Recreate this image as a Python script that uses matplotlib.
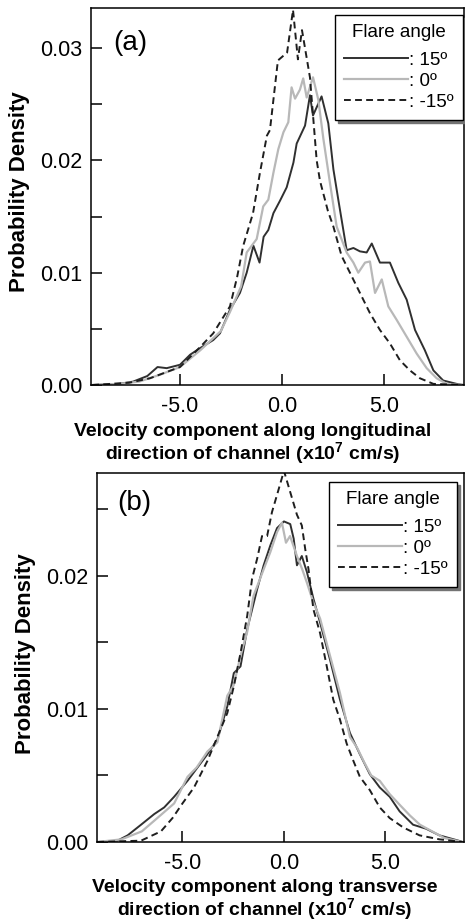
import matplotlib
matplotlib.use("Agg")
import matplotlib.pyplot as plt
from matplotlib.lines import Line2D
from matplotlib.ticker import MultipleLocator

plt.rcParams['font.family'] = ['Liberation Sans', 'DejaVu Sans']
plt.rcParams['mathtext.fontset'] = 'custom'
plt.rcParams['mathtext.rm'] = 'Liberation Sans'
plt.rcParams['mathtext.bf'] = 'Liberation Sans:bold'

# panel (a): longitudinal velocity component (x10^7 cm/s) vs probability density
a_x_15 = [-9.3, -8.0, -7.3, -6.6, -6.1, -5.65, -5.0, -4.5, -4.0, -3.37, -3.04, -2.55, -2.06,
          -1.73, -1.4, -1.1, -0.9, -0.67, -0.42, -0.1, 0.23, 0.56, 0.72, 1.13, 1.37, 1.52,
          1.94, 2.27, 2.52, 2.76, 3.17, 3.5, 3.82, 4.15, 4.4, 4.8, 5.29, 5.7, 6.11, 6.52,
          7.0, 7.42, 7.9, 8.56, 8.9]
a_y_15 = [0.0, 0.0001, 0.0003, 0.0008, 0.0016, 0.0015, 0.0018, 0.0027, 0.0033, 0.0040, 0.0046,
          0.0067, 0.0082, 0.0100, 0.0124, 0.0109, 0.0132, 0.0138, 0.0153, 0.0164, 0.0176,
          0.0198, 0.0215, 0.0231, 0.0258, 0.0240, 0.0257, 0.0233, 0.0192, 0.0165, 0.0120,
          0.0122, 0.0119, 0.0118, 0.0126, 0.0109, 0.0109, 0.0091, 0.0076, 0.0049, 0.0031,
          0.0013, 0.0004, 0.0001, 0.0]

a_x_0 = [-9.3, -8.0, -7.0, -6.0, -5.0, -4.0, -3.0, -2.55, -2.0, -1.73, -1.24, -0.92, -0.67,
         -0.42, -0.18, 0.07, 0.31, 0.47, 0.64, 0.88, 1.04, 1.21, 1.52, 1.78, 2.03, 2.35, 2.68,
         3.17, 3.5, 3.74, 4.07, 4.31, 4.56, 4.89, 5.21, 5.62, 6.11, 6.6, 7.09, 7.58, 8.07, 8.9]
a_y_0 = [0.0, 0.0001, 0.0003, 0.0009, 0.0016, 0.0031, 0.0048, 0.0065, 0.0088, 0.0118, 0.0130,
         0.0159, 0.0165, 0.0189, 0.0210, 0.0225, 0.0234, 0.0265, 0.0255, 0.0263, 0.0273,
         0.0256, 0.0274, 0.0254, 0.0219, 0.0180, 0.0141, 0.0118, 0.0109, 0.0100, 0.0109,
         0.0110, 0.0082, 0.0094, 0.0070, 0.0058, 0.0043, 0.0028, 0.0015, 0.0006, 0.0001, 0.0]

a_x_m15 = [-9.3, -7.5, -6.47, -5.0, -4.0, -3.37, -2.55, -2.2, -1.9, -1.42, -1.08, -0.74, -0.59,
           -0.2, 0.25, 0.54, 0.78, 0.98, 1.37, 1.7, 1.86, 2.25, 2.52, 2.92, 3.33, 3.82, 4.31,
           4.8, 5.29, 5.78, 6.27, 6.76, 7.42, 8.9]
a_y_m15 = [0.0, 0.0002, 0.0006, 0.0016, 0.0034, 0.0046, 0.0070, 0.0096, 0.0124, 0.0153, 0.0189,
           0.0222, 0.0227, 0.0289, 0.0296, 0.0334, 0.0290, 0.0316, 0.0274, 0.0200, 0.0182,
           0.0155, 0.0141, 0.0115, 0.0100, 0.0082, 0.0064, 0.0049, 0.0037, 0.0022, 0.0013,
           0.0006, 0.0001, 0.0]

# panel (b): transverse velocity component
b_x_15 = [-9.2, -8.2, -7.7, -7.04, -6.39, -5.9, -5.41, -4.75, -4.26, -3.77, -3.28, -2.79, -2.47,
          -2.14, -1.81, -1.32, -1.0, -0.67, -0.34, 0.0, 0.31, 0.48, 0.64, 0.88, 1.13, 1.45,
          1.78, 2.27, 2.76, 3.25, 3.74, 4.23, 4.72, 5.21, 5.7, 6.36, 7.0, 7.66, 8.6, 8.8]
b_y_15 = [0.0, 0.0001, 0.0005, 0.0013, 0.0021, 0.0026, 0.0034, 0.0046, 0.0056, 0.0066, 0.0077,
          0.0102, 0.0127, 0.0132, 0.0160, 0.0190, 0.0208, 0.0223, 0.0236, 0.0241, 0.0239,
          0.0228, 0.0208, 0.0215, 0.0203, 0.0183, 0.0165, 0.0137, 0.0107, 0.0082, 0.0066,
          0.0051, 0.0041, 0.0034, 0.0023, 0.0013, 0.0010, 0.0005, 0.0001, 0.0]

b_x_0 = [-9.2, -8.0, -7.0, -6.39, -5.41, -4.75, -4.3, -3.77, -3.28, -2.79, -2.47, -2.14, -1.81,
         -1.5, -1.0, -0.67, -0.34, -0.1, 0.1, 0.3, 0.64, 0.9, 1.13, 1.45, 1.78, 2.27, 2.76,
         3.25, 3.6, 3.95, 4.3, 4.72, 5.21, 5.7, 6.2, 6.7, 7.3, 7.9, 8.8]
b_y_0 = [0.0, 0.0002, 0.0008, 0.0016, 0.0029, 0.0049, 0.0056, 0.0068, 0.0075, 0.0110, 0.0118,
         0.0140, 0.0158, 0.0185, 0.0205, 0.0218, 0.0233, 0.0240, 0.0225, 0.0230, 0.0215,
         0.0205, 0.0195, 0.0180, 0.0168, 0.0140, 0.0112, 0.0079, 0.0071, 0.0060, 0.0050,
         0.0046, 0.0036, 0.0028, 0.0020, 0.0013, 0.0008, 0.0003, 0.0]

b_x_m15 = [-9.2, -7.04, -6.06, -5.49, -5.0, -4.43, -3.77, -3.28, -2.79, -2.47, -2.14, -1.81,
           -1.57, -1.32, -1.08, -0.83, -0.59, -0.34, 0.0, 0.31, 0.64, 0.88, 1.05, 1.21, 1.45,
           1.78, 2.11, 2.43, 2.76, 3.09, 3.42, 3.74, 4.23, 4.72, 5.21, 5.87, 6.68, 7.66, 8.8]
b_y_m15 = [0.0, 0.0001, 0.0008, 0.0018, 0.0029, 0.0041, 0.0061, 0.0079, 0.0097, 0.0117, 0.0142,
           0.0170, 0.0198, 0.0213, 0.0230, 0.0230, 0.0248, 0.0261, 0.0279, 0.0263, 0.0246,
           0.0238, 0.0220, 0.0205, 0.0175, 0.0157, 0.0132, 0.0107, 0.0092, 0.0074, 0.0061,
           0.0049, 0.0039, 0.0026, 0.0018, 0.0011, 0.0005, 0.0002, 0.0]

labels = [': 15º', ': 0º', ': -15º']

W, H = 465, 923
fig = plt.figure(figsize=(W / 100, H / 100), dpi=100)

dark = '#303030'
grey = '#b8b8b8'
styles = [dict(color=dark, lw=1.4),
          dict(color=grey, lw=1.6),
          dict(color='#1e1e1e', lw=1.4, ls=(0, (3.5, 2.2)))]


def px_axes(left, top, right, bottom):
    return fig.add_axes([left / W, 1 - bottom / H, (right - left) / W, (bottom - top) / H])


def style_axes(ax, xlim, ylim):
    ax.set_xlim(*xlim)
    ax.set_ylim(*ylim)
    ax.xaxis.set_major_locator(MultipleLocator(5))
    ax.yaxis.set_major_locator(MultipleLocator(0.01))
    ax.yaxis.set_minor_locator(MultipleLocator(0.005))
    ax.xaxis.set_major_formatter(plt.FuncFormatter(lambda v, p: f'{v:.1f}'))
    ax.yaxis.set_major_formatter(plt.FuncFormatter(lambda v, p: f'{v:.2f}'))
    ax.tick_params(axis='both', which='both', direction='in', length=8, width=1.1,
                   labelsize=15.5, top=False, right=False)
    ax.tick_params(axis='y', pad=6)
    ax.tick_params(axis='x', pad=8)
    for s in ax.spines.values():
        s.set_linewidth(1.1)


def add_legend(ax, right, top):
    handles = [Line2D([], [], **st) for st in styles]
    leg = ax.legend(handles, labels, title='Flare angle', loc='upper right',
                    bbox_to_anchor=(right / W, 1 - top / H), bbox_transform=fig.transFigure,
                    fontsize=13.5, title_fontsize=13.5, handlelength=3.4, handletextpad=0.05,
                    labelspacing=0.2, borderpad=0.5, borderaxespad=0, fancybox=False,
                    framealpha=1, edgecolor='black',
                    shadow={'color': '0.45', 'alpha': 1})
    leg.get_frame().set_linewidth(1.0)
    leg._legend_box.sep = 7.5  # extra gap under the title
    leg.set_zorder(5)
    return leg


# panel (a)
ax1 = px_axes(91, 8, 464, 385)
ax1.plot(a_x_15, a_y_15, **styles[0])
ax1.plot(a_x_0, a_y_0, **styles[1])
ax1.plot(a_x_m15, a_y_m15, **styles[2])
style_axes(ax1, (-9.36, 8.92), (0, 0.03357))
add_legend(ax1, 463, 15)

# panel (b)
ax2 = px_axes(97, 473, 464, 842)
ax2.plot(b_x_15, b_y_15, **styles[0])
ax2.plot(b_x_0, b_y_0, **styles[1])
ax2.plot(b_x_m15, b_y_m15, **styles[2])
style_axes(ax2, (-9.21, 8.87), (0, 0.02774))
add_legend(ax2, 457, 482)

# labels placed in figure pixels
def ftext(x, y, s, **kw):
    fig.text(x / W, 1 - y / H, s, ha='center', va='center', **kw)

ftext(20, 192, 'Probability Density', rotation=90, fontsize=16, fontweight='bold')
ftext(25, 654, 'Probability Density', rotation=90, fontsize=16, fontweight='bold')
ftext(253, 445, 'Velocity component along longitudinal\n'
      r'direction of channel (x10$^{\mathbf{7}}$ cm/s)',
      fontsize=14, fontweight='bold', linespacing=1.05)
ftext(265, 901, 'Velocity component along transverse\n'
      r'direction of channel (x10$^{\mathbf{7}}$ cm/s)',
      fontsize=14, fontweight='bold', linespacing=1.05)
ftext(130, 43, '(a)', fontsize=20)
ftext(134, 503, '(b)', fontsize=20)

fig.savefig('out.png', dpi=100)
